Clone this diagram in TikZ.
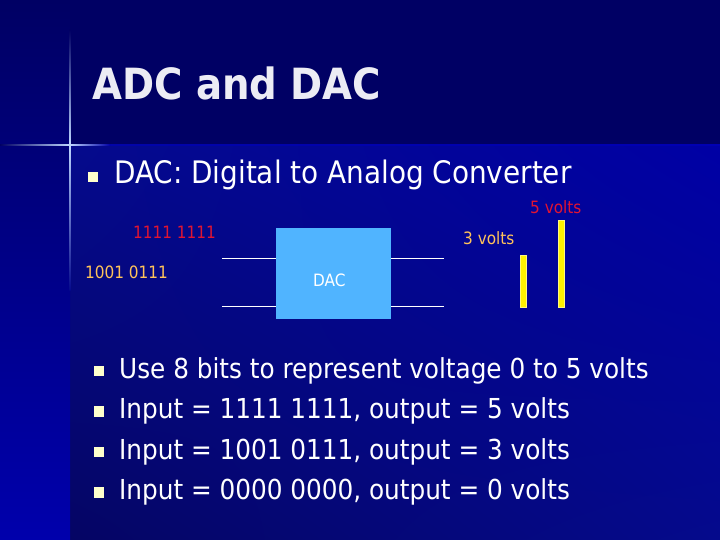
\documentclass[tikz,border=0pt]{standalone}
\usepackage{fontspec}
\setmainfont{DejaVu Sans Condensed}
\usepackage{xcolor}
\definecolor{navy}{RGB}{0,0,100}
\definecolor{panelhi}{RGB}{0,0,165}
\definecolor{panelmid}{RGB}{5,10,140}
\definecolor{panello}{RGB}{5,5,100}
\definecolor{stripbot}{RGB}{0,0,172}
\definecolor{flare}{RGB}{190,215,255}
\definecolor{titlegray}{RGB}{236,236,244}
\definecolor{bulletcol}{RGB}{255,255,204}
\definecolor{bitred}{RGB}{225,20,50}
\definecolor{bitgold}{RGB}{255,195,90}
\definecolor{dacblue}{RGB}{80,180,255}
\usetikzlibrary{positioning,shadings}

\tikzset{
  bullet/.style={fill=bulletcol, minimum size=10.5pt, inner sep=0pt},
  bodytext/.style={anchor=base west, inner sep=0pt, text=white, font=\fontsize{27.5}{30}\selectfont},
  smalltext/.style={anchor=base west, inner sep=0pt, font=\fontsize{17}{18}\selectfont},
  wire/.style={white, line width=0.8pt},
  voltbar/.style={fill=yellow, draw=yellow!50!white, line width=0.5pt, minimum width=6pt, inner sep=0pt, anchor=south},
}

\begin{document}
\begin{tikzpicture}[x=1pt,y=-1pt]
  \useasboundingbox (0,0) rectangle (720,540);

  % Background
  \fill[navy] (0,0) rectangle (720,145);
  \shade[upper left=panelmid, upper right=panelhi, lower left=panello, lower right=panelmid] (70,145) rectangle (720,540);
  \shade[top color=navy, bottom color=stripbot] (0,0) rectangle (70,540);
  \fill[blue!60!navy, opacity=0.5] (70,144.5) rectangle (720,146);

  % Flare
  \shade[top color=navy, bottom color=flare] (69.3,30) rectangle (70.7,145);
  \shade[top color=flare, bottom color=panelmid] (69.3,145) rectangle (70.7,290);
  \shade[left color=navy, right color=flare] (0,144.3) rectangle (70,145.7);
  \shade[left color=flare, right color=panelhi] (70,144.3) rectangle (110,145.7);

  % Title and first bullet
  \node[anchor=base west, inner sep=0pt, text=titlegray, font=\fontsize{43}{46}\selectfont\bfseries] (title) at (92,100) {ADC and DAC};
  \node[bullet] (b0) at (93,177) {};
  \node[bodytext, font=\fontsize{31}{33}\selectfont] (dacline) at (114,184) {DAC: Digital to Analog Converter};

  % Converter sketch
  \node[fill=dacblue, minimum width=115pt, minimum height=91pt, inner sep=0pt] (dac) at (333.5,273.5) {};
  \node[smalltext, text=white] (daclabel) at (313,286) {DAC};
  \node[smalltext, text=bitred] (bitsfull) at (133,238) {1111 1111};
  \node[smalltext, text=bitgold] (bitsmid) at (85,278) {1001 0111};
  \coordinate (inA) at (222,258);
  \coordinate (inB) at (222,306);
  \coordinate (outA) at (444,258);
  \coordinate (outB) at (444,306);
  \draw[wire] (inA) -- (inA -| dac.west);
  \draw[wire] (inB) -- (inB -| dac.west);
  \draw[wire] (dac.east |- outA) -- (outA);
  \draw[wire] (dac.east |- outB) -- (outB);
  \node[voltbar, minimum height=52pt] (bar3) at (523.5,307) {};
  \node[voltbar, minimum height=86pt] (bar5) at (561,307) {};
  \node[smalltext, text=bitgold] (volt3) at (463,244) {3 volts};
  \node[smalltext, text=bitred] (volt5) at (530,214) {5 volts};

  % Bullet list
  \node[bodytext] (l1) at (119,378) {Use 8 bits to represent voltage 0 to 5 volts};
  \node[bodytext] (l2) at (119,418.5) {Input = 1111 1111, output = 5 volts};
  \node[bodytext] (l3) at (119,459) {Input = 1001 0111, output = 3 volts};
  \node[bodytext] (l4) at (119,499.5) {Input = 0000 0000, output = 0 volts};
  \node[bullet] (b1) at (99,371) {};
  \node[bullet] (b2) at (99,411.5) {};
  \node[bullet] (b3) at (99,452) {};
  \node[bullet] (b4) at (99,492.5) {};
\end{tikzpicture}
\end{document}
